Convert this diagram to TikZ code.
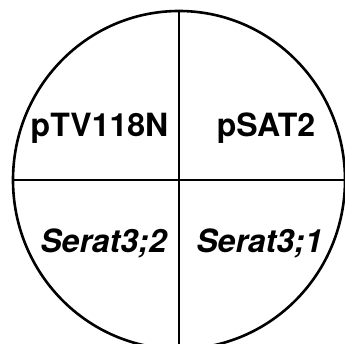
\documentclass[tikz,border=0pt]{standalone}
\usepackage{fontspec}
\setmainfont{TeX Gyre Heros}
\begin{document}
\begin{tikzpicture}[x=1pt,y=1pt,
  lbl/.style={anchor=base,inner sep=0pt,font=\fontsize{32}{36}\selectfont\bfseries},
  lbli/.style={lbl,font=\fontsize{32}{36}\selectfont\bfseries\itshape},
  edge/.style={line width=2.6pt,black}]
\useasboundingbox (0,0) rectangle (345,343);
\coordinate (c) at (179,163);
\coordinate (t) at (179,332);
\coordinate (b) at (179,-6);
\coordinate (l) at (13,163);
\coordinate (r) at (345,163);
\draw[edge] (c) ellipse [x radius=166, y radius=169];
\draw[edge] (t) -- (b);
\draw[edge] (l) -- (r);
\node[lbl] (a) at (99.5,206) {pTV118N};
\node[lbl] (bb) at (266,206) {pSAT2};
\node[lbli] (d) at (103.5,91) {Serat3;2};
\node[lbli] (e) at (259.5,91) {Serat3;1};
\end{tikzpicture}
\end{document}
